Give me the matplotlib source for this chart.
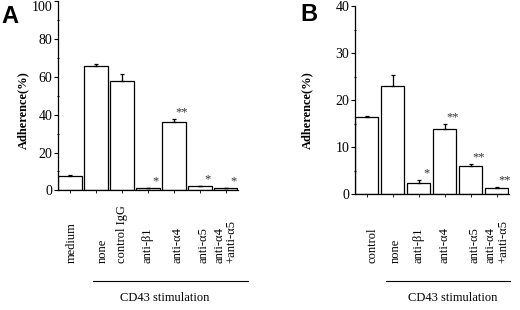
import matplotlib
matplotlib.use("Agg")
import matplotlib.pyplot as plt
from matplotlib.ticker import MultipleLocator
from matplotlib.transforms import blended_transform_factory

plt.rcParams['font.family'] = ['Liberation Serif', 'DejaVu Serif']

# Panel A data
a_labels = ["medium", "none", "control IgG", "anti-β1", "anti-α4", "anti-α5", "anti-α4\n+anti-α5"]
a_values = [7.7, 66.0, 58.0, 1.0, 36.3, 2.1, 1.2]
a_errors = [0.3, 0.8, 3.5, 0.0, 1.6, 0.4, 0.0]
a_marks = ["", "", "", "*", "**", "*", "*"]

# Panel B data
b_labels = ["control", "none", "anti-β1", "anti-α4", "anti-α5", "anti-α4\n+anti-α5"]
b_values = [16.5, 23.0, 2.5, 13.8, 6.0, 1.3]
b_errors = [0.1, 2.3, 0.5, 1.1, 0.4, 0.3]
b_marks = ["", "", "*", "**", "**", "**"]

W, H = 520, 310
fig = plt.figure(figsize=(W / 100, H / 100), dpi=100)


def draw_panel(rect, labels, values, errors, marks, ymax, major, width, letter,
               letter_xy, ylabel_x, label_dx, stim_line, stim_text_x, top_va):
    ax = fig.add_axes(rect)
    x = list(range(len(values)))
    ax.bar(x, values, width=width, color="white", edgecolor="black", linewidth=0.9)
    ax.errorbar(x, values, yerr=[[0] * len(errors), errors], fmt="none",
                ecolor="black", elinewidth=0.9, capsize=1.5, capthick=0.9)
    for xi, v, e, m in zip(x, values, errors, marks):
        if m:
            ax.text(xi + 0.3, v + e + ymax * 0.035, m, ha="center", va="center",
                    fontsize=9, color="#333333")
    ax.set_xlim(-width / 2 - 0.01, len(values) - 1 + width / 2 + 0.02)
    ax.set_ylim(0, ymax)
    yt = list(range(0, ymax + 1, major))
    ax.set_yticks(yt)
    ax.yaxis.set_minor_locator(MultipleLocator(major / 2))
    ax.tick_params(axis="y", which="major", direction="out", length=3, width=0.8,
                   labelsize=10, pad=1)
    ax.tick_params(axis="y", which="minor", direction="inout", length=2, width=0.8)
    ax.set_xticks(x)
    ax.set_xticklabels([])
    ax.tick_params(axis="x", direction="out", length=2, width=0.6)
    for s in ("top", "right"):
        ax.spines[s].set_visible(False)
    for s in ("left", "bottom"):
        ax.spines[s].set_linewidth(0.9)
    ax.yaxis.get_major_ticks()[-1].label1.set_verticalalignment(top_va)

    # rotated category labels
    tr = blended_transform_factory(ax.transData, fig.transFigure)
    for xi, lab, dx in zip(x, labels, label_dx):
        ax.text(xi + dx, 1 - 263 / H, lab, transform=tr, rotation=90,
                ha="center", va="bottom", fontsize=9, linespacing=1.0,
                multialignment="left")

    # y label
    fig.text(ylabel_x / W, 1 - 110 / H, "Adherence(%)", rotation=90, ha="center",
             va="center", fontsize=9, fontweight="bold")
    # panel letter
    fig.text(letter_xy[0] / W, 1 - letter_xy[1] / H, letter, ha="left", va="top",
             fontsize=17, fontweight="bold", family="Liberation Sans")
    # stimulation line and text
    x0, x1, yl = stim_line
    fig.add_artist(plt.Line2D([x0 / W, x1 / W], [1 - yl / H, 1 - yl / H],
                              color="black", linewidth=0.8))
    fig.text(stim_text_x / W, 1 - 298 / H, "CD43 stimulation", ha="center",
             va="center", fontsize=9)
    return ax


draw_panel([58 / W, 1 - 190.3 / H, 180 / W, 189 / H], a_labels, a_values, a_errors,
           a_marks, 100, 20, 0.915, "A", (1, 5), 23,
           [0.05, 0.25, 0.0, 0.0, 0.15, 0.15, 0.0], (93, 248, 281), 165, "top")

draw_panel([355 / W, 1 - 194.3 / H, 154 / W, 188.3 / H], b_labels, b_values, b_errors,
           b_marks, 40, 10, 0.89, "B", (300, 3), 307,
           [0.2, 0.1, 0.0, 0.0, 0.15, 0.0], (386, 510, 281), 453, "center_baseline")

fig.savefig("out.png", dpi=100)
